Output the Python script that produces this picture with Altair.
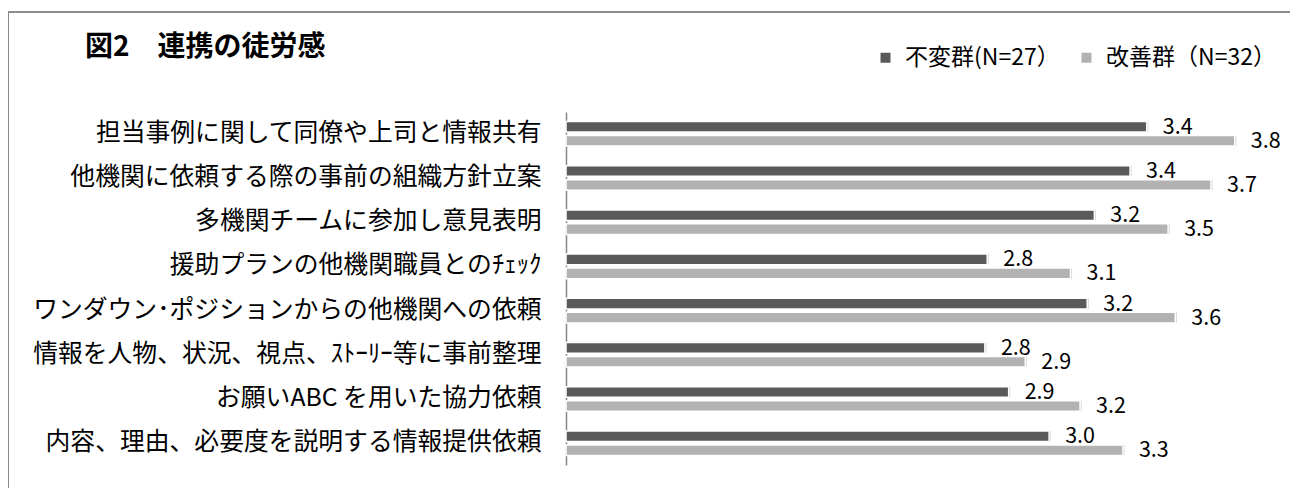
import altair as alt
import pandas as pd

categories = [
    "担当事例に関して同僚や上司と情報共有",
    "他機関に依頼する際の事前の組織方針立案",
    "多機関チームに参加し意見表明",
    "援助プランの他機関職員とのﾁｪｯｸ",
    "ワンダウン･ポジションからの他機関への依頼",
    "情報を人物、状況、視点、ｽﾄｰﾘｰ等に事前整理",
    "お願いABC を用いた協力依頼",
    "内容、理由、必要度を説明する情報提供依頼",
]
series_names = ["不変群(N=27）", "改善群（N=32）"]
unchanged = [3.44, 3.37, 3.22, 2.77, 3.19, 2.76, 2.86, 3.03]
improved = [3.81, 3.71, 3.53, 3.12, 3.56, 2.93, 3.16, 3.34]
colors = ["#5a5a5a", "#b2b2b2"]
title_text = ["図2　連携の徒労感"]

rows = []
for c, a, b in zip(categories, unchanged, improved):
    rows.append({"item": c, "group": series_names[0], "score": a})
    rows.append({"item": c, "group": series_names[1], "score": b})
df = pd.DataFrame(rows)

FONT = "Noto Sans CJK JP"

y_enc = alt.Y(
    "item:N",
    sort=categories,
    scale=alt.Scale(paddingInner=0.444, paddingOuter=0.215),
    axis=alt.Axis(
        title=None, ticks=False, labelFontSize=24.8, labelFont=FONT,
        labelColor="#000000", labelPadding=25, labelLimit=0,
        domainColor="#868686", domainWidth=1.5,
    ),
)
yoff_enc = alt.YOffset("group:N", sort=series_names, scale=alt.Scale(paddingInner=0.24))
x_enc = alt.X("score:Q", scale=alt.Scale(domain=[1, 4], nice=False, zero=False), axis=None)

base = alt.Chart(df)

shadow = base.mark_bar(color="#9a9a9a", opacity=0.45, yOffset=2, xOffset=1.5).encode(
    x=x_enc, x2=alt.datum(1), y=y_enc, yOffset=yoff_enc
)

bars = base.mark_bar(stroke="white", strokeWidth=1.5).encode(
    x=x_enc,
    x2=alt.datum(1),
    y=y_enc,
    yOffset=yoff_enc,
    color=alt.Color(
        "group:N",
        scale=alt.Scale(domain=series_names, range=colors),
        legend=alt.Legend(
            title=None, orient="none", legendX=308, legendY=-66,
            direction="horizontal", symbolType="square", symbolSize=100,
            symbolStrokeWidth=0, labelFontSize=23, labelFont=FONT,
            labelOffset=8, labelLimit=400, columnPadding=15, padding=0,
            labelColor="#000000",
        ),
    ),
)

labels = base.mark_text(align="left", dx=16, dy=1, fontSize=21.5, font=FONT, color="#000000").encode(
    x=x_enc, y=y_enc, yOffset=yoff_enc, text=alt.Text("score:Q", format=".1f")
)

one = pd.DataFrame({"k": [0]})
frame_h = alt.Chart(one).mark_rule(color="#8c8c8c", strokeWidth=2).encode(
    x=alt.value(-559), x2=alt.value(760), y=alt.value(-100)
)
frame_v = alt.Chart(one).mark_rule(color="#8c8c8c", strokeWidth=2).encode(
    x=alt.value(-558), y=alt.value(-100), y2=alt.value(420)
)

title = alt.Chart(pd.DataFrame({"t": title_text})).mark_text(
    align="left", baseline="middle", font=FONT, fontSize=28, fontWeight="bold", color="#000000"
).encode(x=alt.value(-481), y=alt.value(-64.5), text="t:N")

chart = alt.layer(frame_h, frame_v, title, shadow, bars, labels).properties(
    width=714,
    height=353,
    padding={"left": 558, "top": 104, "right": 10, "bottom": 23},
    autosize=alt.AutoSizeParams(type="none"),
).configure_view(stroke=None)

chart.save("out.html", embed_options={"renderer": "svg", "actions": False})
